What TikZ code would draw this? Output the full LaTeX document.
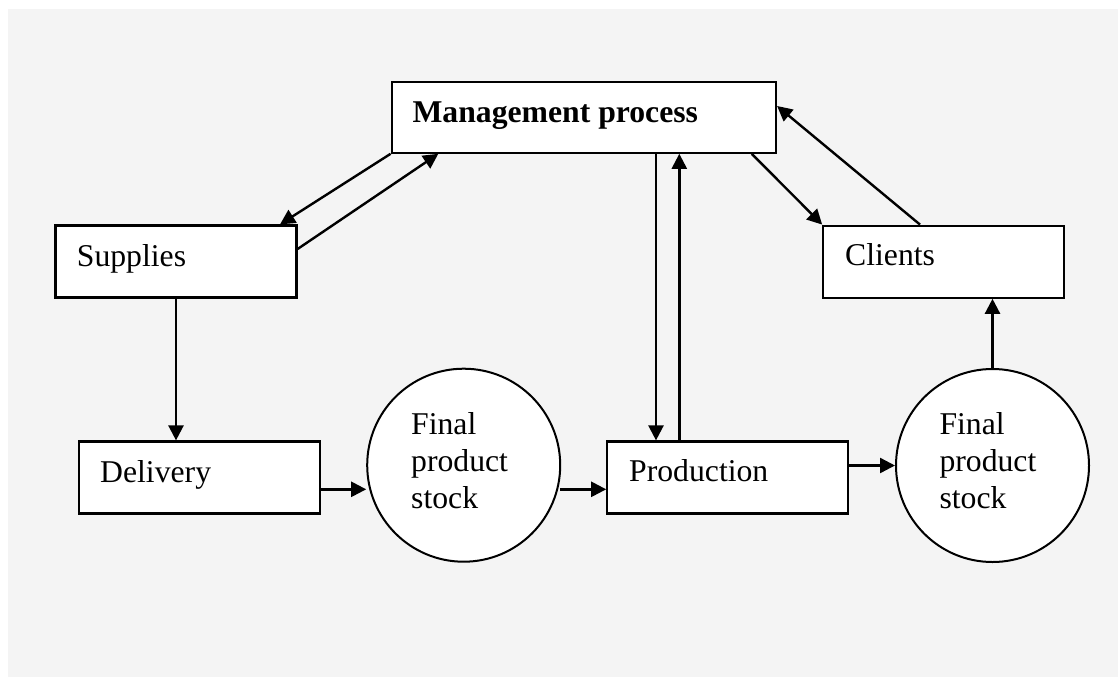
\documentclass[tikz,border=0pt]{standalone}
\usepackage{fontspec}
\setmainfont{Liberation Serif}
\usetikzlibrary{arrows.meta}
\definecolor{bggray}{RGB}{244,244,244}
\begin{document}
\begin{tikzpicture}[x=1pt,y=-1pt,
  box/.style={draw=black, fill=white, line width=2.2pt, rectangle, inner sep=0pt, minimum width=241pt, minimum height=72pt},
  stockcirc/.style={draw=black, fill=white, line width=2pt, circle, inner sep=0pt, minimum size=193pt},
  lbl/.style={anchor=base west, inner sep=0pt, font=\fontsize{31.7}{37}\selectfont},
  conn/.style={line width=2.4pt, -{Triangle[length=15pt,width=15pt]}},
  plain/.style={line width=2.4pt}
]
\useasboundingbox (0,0) rectangle (1118,677);
\fill[white] (0,0) rectangle (1118,677);
\fill[bggray] (8,9) rectangle (1118,677);

% boxes
\node[box, minimum width=384.3pt, minimum height=71pt] (mgmt) at (583.85,117.2) {};
\node[box] (sup) at (176,261.5) {};
\node[box] (cli) at (943.8,261.7) {};
\node[box] (del) at (199.7,477.5) {};
\node[box] (prod) at (727.8,477.5) {};
\node[stockcirc] (c1) at (463.7,465.2) {};
\node[stockcirc] (c2) at (992.5,465.5) {};

% labels
\node[lbl, font=\fontsize{31.7}{37}\selectfont\bfseries] (tmgmt) at (412.3,122.7) {Management process};
\node[lbl] (tsup) at (76.7,266.7) {Supplies};
\node[lbl] (tcli) at (845,265) {Clients};
\node[lbl] (tdel) at (100,482.7) {Delivery};
\node[lbl] (tprod) at (629,481.7) {Production};
\node[lbl] (tc1a) at (411,434.2) {Final};
\node[lbl] (tc1b) at (411,471.2) {product};
\node[lbl] (tc1c) at (411,508.2) {stock};
\node[lbl] (tc2a) at (939.3,434.2) {Final};
\node[lbl] (tc2b) at (939.3,471.2) {product};
\node[lbl] (tc2c) at (939.3,508.2) {stock};

% connectors
\draw[conn] (mgmt.south west) -- (280,0 |- sup.north);
\draw[conn] (sup.east |- 0,249) -- (438.3,0 |- mgmt.south);
\draw[conn] (656,0 |- mgmt.south) -- (656,0 |- prod.north);
\draw[conn] (679.3,0 |- prod.north) -- (679.3,0 |- mgmt.south);
\draw[conn] (751.7,0 |- mgmt.south) -- (cli.north west);
\draw[conn] (920,0 |- cli.north) -- (mgmt.east |- 0,106);
\draw[conn] (sup.south) -- (sup.south |- del.north);
\draw[conn] (del.east |- 0,489.3) -- (c1.west |- 0,489.3);
\draw[conn] (560,489.3) -- (prod.west |- 0,489.3);
\draw[conn] (prod.east |- c2.west) -- (c2.west);
\draw[conn] (c2.north) -- (c2.north |- cli.south);
\end{tikzpicture}
\end{document}
